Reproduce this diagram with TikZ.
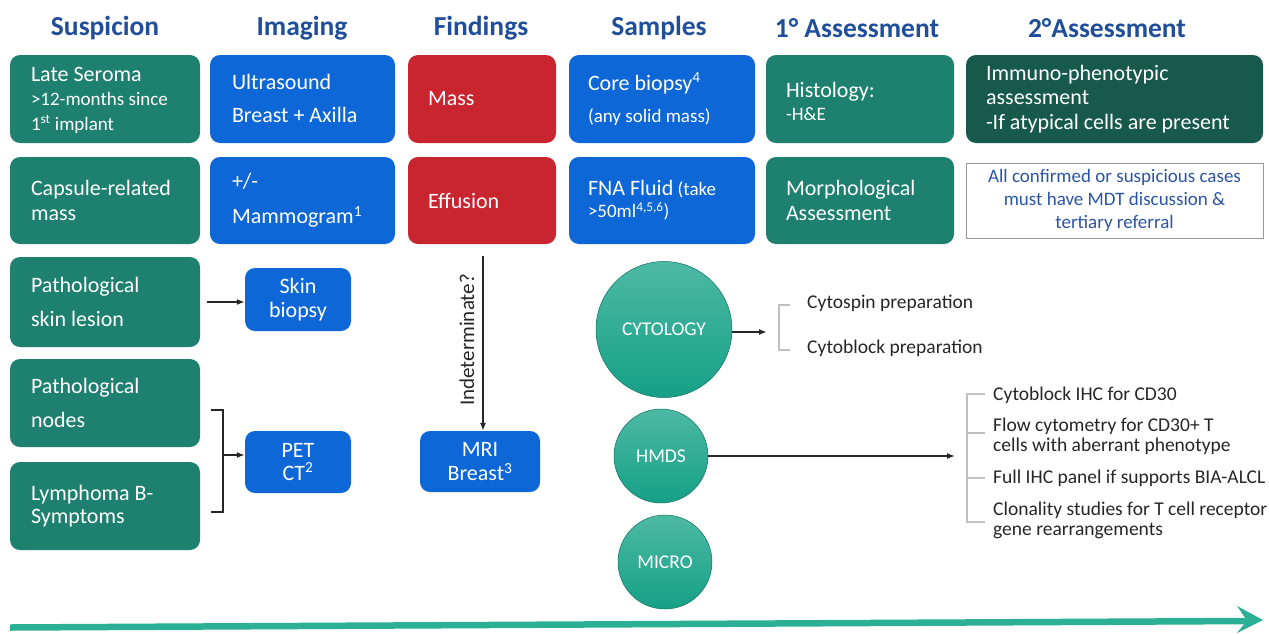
\documentclass[tikz,border=0pt]{standalone}
\usepackage{fontspec}
\setmainfont{Carlito}
\usetikzlibrary{arrows.meta,calc}
\definecolor{grn}{HTML}{1E806E}
\definecolor{dgrn}{HTML}{175A4B}
\definecolor{blu}{HTML}{0E67D6}
\definecolor{redc}{HTML}{C9252E}
\definecolor{hdrc}{HTML}{1F4E9A}
\definecolor{wbtxt}{HTML}{2A55A6}
\definecolor{brk}{HTML}{BFBFBF}
\definecolor{ctop}{HTML}{4DB9A3}
\definecolor{cbot}{HTML}{16A087}
\definecolor{teal}{HTML}{2BAF95}
\definecolor{dark}{HTML}{262626}
\begin{document}
\begin{tikzpicture}[x=1pt,y=-1pt,
  box/.style={rounded corners=10pt, draw=none, inner sep=0pt},
  gbox/.style={box, fill=grn},
  dbox/.style={box, fill=dgrn},
  bbox/.style={box, fill=blu},
  rbox/.style={box, fill=redc},
  txt/.style={anchor=west, align=left, text=white, inner sep=0pt, font=\fontsize{22}{24.5}\selectfont},
  ctxt/.style={align=center, text=white, inner sep=0pt, font=\fontsize{22}{24.5}\selectfont},
  hdr/.style={font=\bfseries\fontsize{27.5}{30}\selectfont, text=hdrc, inner sep=0pt},
  circ/.style={circle, top color=ctop, bottom color=cbot, draw=cbot!70!black, line width=0.5pt, text=white, font=\fontsize{19.5}{20}\selectfont, inner sep=0pt},
  itm/.style={anchor=west, align=left, text=dark, inner sep=0pt, font=\fontsize{19.5}{19.5}\selectfont},
  conn/.style={draw=dark, line width=1.4pt, -{Latex[length=8pt,width=6pt]}},
  brkt/.style={draw=brk, line width=2.5pt},
  sbr/.style={draw=dark, line width=1.4pt}
]
\useasboundingbox (0,0) rectangle (1269,633);

% headings
\node[hdr] (h1) at (105,28) {Suspicion};
\node[hdr] (h2) at (302,28) {Imaging};
\node[hdr] (h3) at (481,28) {Findings};
\node[hdr] (h4) at (659,28) {Samples};
\node[hdr] (h5) at (857,28) {1° Assessment};
\node[hdr] (h6) at (1107,28) {2°Assessment};

% row 1
\node[gbox, minimum width=190, minimum height=88] (ls) at (105,99) {};
\node[bbox, minimum width=185, minimum height=88] (us) at (302.5,99) {};
\node[rbox, minimum width=148, minimum height=88] (ms) at (482,99) {};
\node[bbox, minimum width=186, minimum height=88] (cb) at (662,99) {};
\node[gbox, minimum width=188, minimum height=88] (hi) at (860,99) {};
\node[dbox, minimum width=297, minimum height=88] (im) at (1114.5,99) {};

\node[txt, font=\fontsize{19}{24.5}\selectfont] (tls) at ($(ls.west)+(21,1)$) {{\fontsize{22}{24.5}\selectfont Late Seroma}\\>12-months since\\1\textsuperscript{st} implant};
\node[txt] (tus) at ($(us.west)+(22,-1)$) {Ultrasound\\[8.5pt]Breast + Axilla};
\node[txt] (tms) at ($(ms.west)+(20,0)$) {Mass};
\node[txt, font=\fontsize{19}{24.5}\selectfont] (tcb) at ($(cb.west)+(19,0)$) {{\fontsize{22}{24.5}\selectfont Core biopsy\textsuperscript{4}}\\[7.5pt](any solid mass)};
\node[txt, font=\fontsize{19}{23}\selectfont] (thi) at ($(hi.west)+(20,2)$) {{\fontsize{22}{24.5}\selectfont Histology:}\\-H\&E};
\node[txt] (tim) at ($(im.west)+(20,0)$) {Immuno-phenotypic\\assessment\\-If atypical cells are present};

% row 2
\node[gbox, minimum width=190, minimum height=87] (cr) at (105,200.5) {};
\node[bbox, minimum width=185, minimum height=87] (mm) at (302.5,200.5) {};
\node[rbox, minimum width=148, minimum height=87] (ef) at (482,200.5) {};
\node[bbox, minimum width=186, minimum height=87] (fna) at (662,200.5) {};
\node[gbox, minimum width=188, minimum height=87] (mo) at (860,200.5) {};
\node[box, draw=brk!80!black, line width=0.8pt, fill=white, rounded corners=0pt, minimum width=297, minimum height=75] (wb) at (1114.5,200.5) {};

\node[txt] (tcr) at ($(cr.west)+(21,0)$) {Capsule-related\\mass};
\node[txt] (tmm) at ($(mm.west)+(22,0)$) {+/-\\[10.5pt]Mammogram\textsuperscript{1}};
\node[txt] (tef) at ($(ef.west)+(20,0)$) {Effusion};
\node[txt, font=\fontsize{19}{22}\selectfont] (tfna) at ($(fna.west)+(19,0)$) {{\fontsize{22}{24.5}\selectfont FNA Fluid} (take\\>50ml\textsuperscript{4,5,6})};
\node[txt] (tmo) at ($(mo.west)+(20,0)$) {Morphological\\Assessment};
\node[align=center, text=wbtxt, inner sep=0pt, font=\fontsize{19}{23}\selectfont] (twb) at (wb.center) {All confirmed or suspicious cases\\must have MDT discussion \&\\tertiary referral};

% row 3 and below
\node[gbox, minimum width=190, minimum height=90] (psk) at (105,302) {};
\node[gbox, minimum width=190, minimum height=88] (pn) at (105,403) {};
\node[gbox, minimum width=190, minimum height=88] (lb) at (105,506) {};
\node[bbox, minimum width=106, minimum height=63] (skb) at (298,299.5) {};
\node[bbox, minimum width=106, minimum height=62] (pet) at (298,462) {};
\node[bbox, minimum width=120, minimum height=61] (mri) at (480,461.5) {};

\node[txt] (tpsk) at ($(psk.west)+(21,0)$) {Pathological\\[9.5pt]skin lesion};
\node[txt] (tpn) at ($(pn.west)+(21,0)$) {Pathological\\[9.5pt]nodes};
\node[txt] (tlb) at ($(lb.west)+(21,0)$) {Lymphoma B-\\[-1.5pt]Symptoms};
\node[ctxt] (tskb) at (skb.center) {Skin\\biopsy};
\node[ctxt] (tpet) at (pet.center) {PET\\[-1.5pt]CT\textsuperscript{2}};
\node[ctxt] (tmri) at (mri.center) {MRI\\Breast\textsuperscript{3}};

% connectors left
\draw[conn, shorten <=7pt] (psk.east |- 0,302) -- (skb.west |- 0,302);
\coordinate (b1) at (211,410);
\coordinate (b2) at (211,512);
\coordinate (bm) at (223,455);
\draw[sbr] (b1) -| (bm) |- (b2);
\draw[conn] (bm) -- (pet.west |- bm);

% indeterminate
\coordinate (ind) at (483,256);
\draw[conn] (ind) -- (ind |- mri.north);
\node[rotate=90, text=dark, inner sep=0pt, font=\fontsize{21}{22}\selectfont] (lind) at (467,340) {Indeterminate?};

% circles
\node[circ, minimum size=136] (cyt) at (664,329.5) {CYTOLOGY};
\node[circ, minimum size=94] (hmds) at (661,456) {HMDS};
\node[circ, minimum size=94] (mic) at (665,562) {MICRO};

% cytology branch
\coordinate (ca) at (767,332);
\draw[conn, line width=1.8pt] (cyt.east |- ca) -- (ca);
\draw[brkt] (790,305) -- (779,305) -- (779,350) -- (790,350);
\node[itm] (c1) at (807,303) {Cytospin preparation};
\node[itm] (c2) at (807,348) {Cytoblock preparation};

% HMDS branch
\coordinate (ha) at (955,456);
\draw[conn] (hmds.east |- ha) -- (ha);
\draw[brkt] (985,394) -- (967,394) -- (967,522) -- (985,522);
\draw[brkt] (967,433) -- (985,433);
\draw[brkt] (967,478) -- (985,478);
\node[itm] (d1) at (993,395) {Cytoblock IHC for CD30};
\node[itm] (d2) at (993,436.5) {Flow cytometry for CD30+ T\\cells with aberrant phenotype};
\node[itm] (d3) at (993,478) {Full IHC panel if supports BIA-ALCL};
\node[itm] (d4) at (993,520.5) {Clonality studies for T cell receptor\\gene rearrangements};

% bottom timeline arrow
\coordinate (tl) at (10,627.5);
\coordinate (tr) at (1249,621);
\draw[teal, line width=6.5pt] (tl) -- (tr);
\fill[teal] (1237,606) -- (1263,620) -- (1237,633) -- (1247,620.5) -- cycle;
\end{tikzpicture}
\end{document}
